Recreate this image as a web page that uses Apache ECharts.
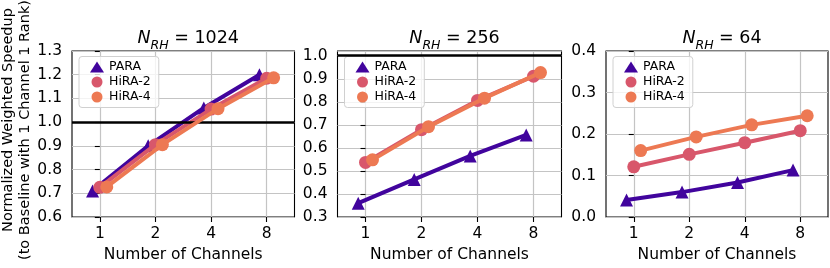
<!DOCTYPE html>
<html>
<head>
<meta charset="utf-8">
<script src="https://cdn.jsdelivr.net/npm/echarts@6/dist/echarts.min.js"></script>
<style>
html,body{margin:0;padding:0;background:#fff;}
#chart{width:830px;height:268px;}
</style>
</head>
<body>
<div id="chart"></div>
<script>
// ---- data ----
const channels = [1, 2, 4, 8];
const xTickLabels = ['1', '2', '4', '8'];
const seriesNames = ['PARA', 'HiRA-2', 'HiRA-4'];
const panelTitles = ['1024', '256', '64'];

const para1024 = [0.71, 0.90, 1.06, 1.20];
const hira2_1024 = [0.725, 0.905, 1.055, 1.185];
const hira4_1024 = [0.727, 0.905, 1.057, 1.187];

const para256 = [0.36, 0.463, 0.565, 0.656];
const hira2_256 = [0.537, 0.679, 0.806, 0.911];
const hira4_256 = [0.548, 0.692, 0.816, 0.927];

const para64 = [0.041, 0.060, 0.083, 0.113];
const hira2_64 = [0.121, 0.151, 0.179, 0.208];
const hira4_64 = [0.160, 0.193, 0.222, 0.244];

const refLines = [1.0, 1.0, null];
const yMins = [0.6, 0.3, 0.0];
const yMaxs = [1.3, 1.0206, 0.4];

// ---- styles ----
const colors = ['#41049d', '#d8576b', '#ed7953'];
const symbols = ['triangle', 'circle', 'circle'];
const xOffsets = [-0.13, 0, 0.125];
const FONT = 'DejaVu Sans';
const TICK_FS = 15.5;
const grids = [
  {left: 72, top: 51, width: 222.5, height: 166},
  {left: 337.5, top: 51, width: 224, height: 166},
  {left: 606, top: 51, width: 222, height: 166}
];
const panelData = [
  [para1024, hira2_1024, hira4_1024],
  [para256, hira2_256, hira4_256],
  [para64, hira2_64, hira4_64]
];

const option = {
  animation: false,
  backgroundColor: '#fff',
  textStyle: {fontFamily: FONT, color: '#000'},
  grid: [], xAxis: [], yAxis: [], series: [], title: [], legend: [],
  graphic: [
    {type: 'text', x: 8, y: 120, rotation: Math.PI / 2,
     style: {text: 'Normalized Weighted Speedup', font: '14.5px "DejaVu Sans"', fill: '#000',
             align: 'center', verticalAlign: 'middle'}},
    {type: 'text', x: 25, y: 130, rotation: Math.PI / 2,
     style: {text: '(to Baseline with 1 Channel 1 Rank)', font: '14.5px "DejaVu Sans"', fill: '#000',
             align: 'center', verticalAlign: 'middle'}}
  ]
};

grids.forEach((g, i) => {
  option.grid.push(Object.assign({show: true, borderColor: '#000', borderWidth: 1.1, containLabel: false}, g));
  option.xAxis.push({
    type: 'value', gridIndex: i, min: -0.5, max: 3.5,
    name: 'Number of Channels', nameLocation: 'middle', nameGap: 30,
    nameTextStyle: {fontFamily: FONT, fontSize: TICK_FS, color: '#000'},
    axisLine: {show: false},
    axisTick: {show: true, inside: false, length: 5, lineStyle: {color: '#000', width: 1.1},
               customValues: channels.map(c => Math.log2(c))},
    axisLabel: {show: true, margin: 9, fontFamily: FONT, fontSize: TICK_FS, color: '#000',
                customValues: channels.map(c => Math.log2(c)),
                formatter: v => xTickLabels[channels.indexOf(Math.round(Math.pow(2, v)))]},
    splitLine: {show: true, lineStyle: {color: '#c4c4c4', width: 1.2}}
  });
  option.yAxis.push({
    type: 'value', gridIndex: i, min: yMins[i], max: yMaxs[i], interval: 0.1,
    axisLine: {show: false},
    axisTick: {show: true, inside: false, length: 5, lineStyle: {color: '#000', width: 1.1}},
    axisLabel: {show: true, margin: 10, fontFamily: FONT, fontSize: TICK_FS, color: '#000',
                showMaxLabel: i !== 1, formatter: v => v.toFixed(1)},
    splitLine: {show: true, lineStyle: {color: '#c4c4c4', width: 1.2}}
  });
  if (refLines[i] !== null) {
    option.series.push({
      type: 'line', name: 'ref' + i, xAxisIndex: i, yAxisIndex: i, data: [], z: 1,
      markLine: {silent: true, symbol: ['none', 'none'], label: {show: false}, animation: false,
                 lineStyle: {color: '#000', width: 2.6, type: 'solid'}, data: [{yAxis: refLines[i]}]}
    });
  }
  panelData[i].forEach((vals, k) => {
    option.series.push({
      type: 'line', name: seriesNames[k], xAxisIndex: i, yAxisIndex: i, z: 3 + k,
      symbol: symbols[k], symbolSize: 13,
      lineStyle: {color: colors[k], width: 4},
      itemStyle: {color: colors[k], opacity: 1},
      data: channels.map((c, j) => [Math.log2(c) + xOffsets[k], vals[j]])
    });
  });
  option.title.push({
    text: '{i|N}{s|RH}{n| = ' + panelTitles[i] + '}',
    left: g.left + g.width / 2, top: 24, textAlign: 'center',
    textStyle: {fontWeight: 'normal', rich: {
      i: {fontFamily: FONT, fontSize: 17.5, fontStyle: 'italic', fontWeight: 'normal', color: '#000', lineHeight: 20, verticalAlign: 'top'},
      s: {fontFamily: FONT, fontSize: 12.5, fontStyle: 'italic', fontWeight: 'normal', color: '#000', lineHeight: 12, verticalAlign: 'top', padding: [10, 0, 0, 0]},
      n: {fontFamily: FONT, fontSize: 17.5, fontWeight: 'normal', color: '#000', lineHeight: 20, verticalAlign: 'top'}
    }}
  });
  option.legend.push({
    orient: 'vertical', left: g.left + 7, top: g.top + 5.5,
    itemWidth: 14, itemHeight: 11, itemGap: 2,
    padding: [4, 8, 4, 11],
    backgroundColor: 'rgba(255,255,255,0.8)', borderColor: '#d0d0d0', borderWidth: 1, borderRadius: 3,
    textStyle: {fontFamily: FONT, fontSize: 12.5, color: '#000'},
    data: seriesNames.map((n, k) => ({name: n, icon: symbols[k]}))
  });
});

const chart = echarts.init(document.getElementById('chart'), null, {renderer: 'canvas'});
chart.setOption(option);
</script>
</body>
</html>
